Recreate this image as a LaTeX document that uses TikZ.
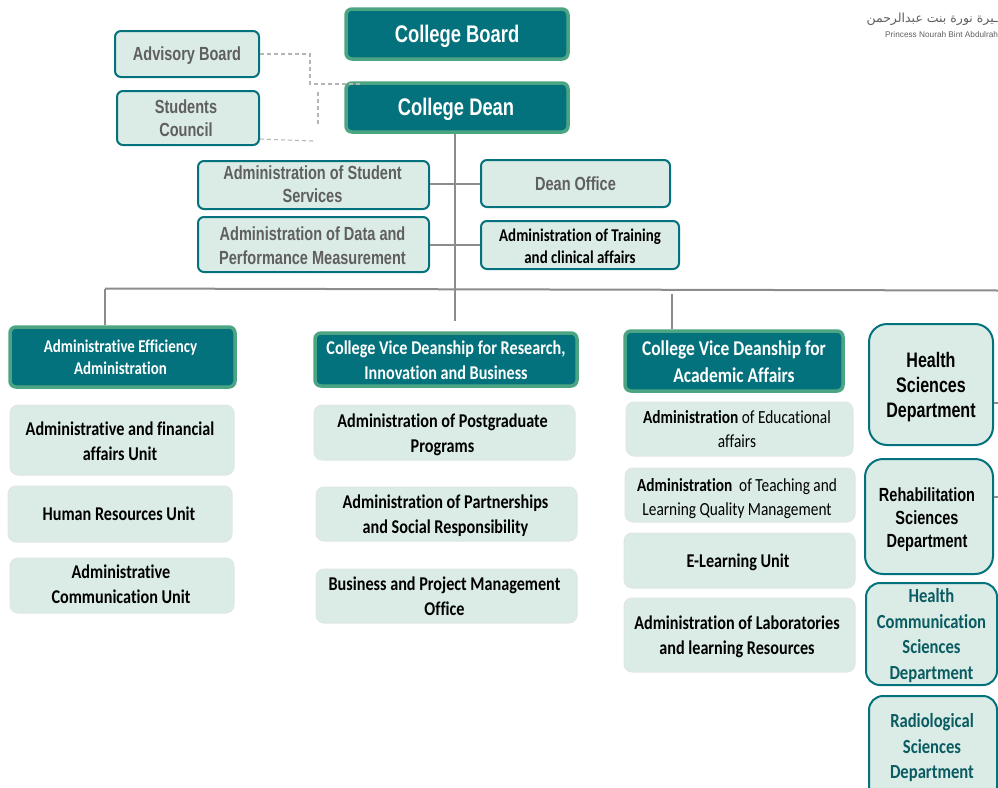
\documentclass[tikz,border=0pt]{standalone}
\usepackage{fontspec}
\setmainfont[FakeStretch=0.765]{Liberation Sans}
\newfontfamily\logofont{Liberation Sans}
\newfontfamily\calib[FakeStretch=0.83,Ligatures=NoCommon]{Carlito}
\newfontfamily\arabicfont[Script=Arabic]{DejaVu Sans}
\TeXXeTstate=1
\definecolor{teal1}{HTML}{04727C}
\definecolor{green1}{HTML}{4BA583}
\definecolor{pale}{HTML}{DBECE6}
\definecolor{edge2}{HTML}{DFE6E3}
\definecolor{gr}{HTML}{5F5F5F}
\definecolor{linec}{HTML}{8C8C8C}
\definecolor{deept}{HTML}{0B5C62}
\tikzset{
 base/.style={inner sep=0pt,font=\bfseries},
 dark/.style={base,fill=teal1,draw=green1,line width=3.5pt,rounded corners=6pt,text=white},
 lite/.style={base,fill=pale,draw=teal1,line width=2pt,rounded corners=6pt},
 soft/.style={base,fill=pale,draw=edge2,line width=1pt,rounded corners=8pt,text=black},
 conn/.style={draw=linec,line width=2pt},
 dashconn/.style={draw=linec!65,line width=1.1pt,dash pattern=on 4pt off 3pt},
}
% name, style, x0, y0, x1, y1, text dx, text dy, text
\newcommand{\bx}[9]{\node[#2,minimum width=#5pt-#3pt,minimum height=#6pt-#4pt] (#1) at ({(#3+#5)/2},{(#4+#6)/2}) {\kern#7pt\kern#7pt\raisebox{-#8pt}[\height][\depth]{\begin{tabular}{@{}c@{}}#9\end{tabular}}};}
\begin{document}
\begin{tikzpicture}[x=1pt,y=-1pt]
\useasboundingbox (0,0) rectangle (998,787);
\clip (0,0) rectangle (998,787);
\coordinate (cA) at (310,54); \coordinate (cB) at (310,84); \coordinate (cC) at (360,84);
\coordinate (cD) at (313,141); \coordinate (cE) at (318,92); \coordinate (cF) at (318,124);
\coordinate (stem) at (455,321); \coordinate (bL) at (105,288.5); \coordinate (bR) at (998,290.5);
\coordinate (jV) at (672,294); \coordinate (eH) at (998,403); \coordinate (eR) at (998,497); \coordinate (eC) at (998,624);
\draw[conn] (stem |- 0,130) -- (stem);
\bx{board}{dark,font=\bfseries\fontsize{24}{27}\selectfont}{346}{9}{568}{59}{0}{3}{College Board}
\bx{dean}{dark,font=\bfseries\fontsize{24}{27}\selectfont}{346}{83}{568}{132}{-1}{3}{College Dean}
\bx{adv}{lite,text=gr,font=\bfseries\fontsize{19}{23}\selectfont}{115}{31}{259}{77}{0}{2}{Advisory Board}
\bx{stu}{lite,text=gr,font=\bfseries\fontsize{19}{23}\selectfont}{117}{91}{259}{145}{-2}{2}{Students\\Council}
\bx{ass}{lite,text=gr,font=\bfseries\fontsize{19}{23.5}\selectfont}{198}{161}{429}{209}{-1}{1.5}{Administration of Student\\Services}
\bx{off}{lite,text=gr,font=\bfseries\fontsize{19}{23}\selectfont}{481}{160}{670}{207}{0}{2}{Dean Office}
\bx{adm}{lite,text=gr,font=\bfseries\fontsize{19}{23.5}\selectfont}{198}{217}{429}{272}{-1}{3.5}{Administration of Data and\\Performance Measurement}
\bx{trn}{lite,text=black,font=\calib\bfseries\fontsize{18}{22}\selectfont}{481}{221}{679}{269}{0}{3}{Administration of Training\\and clinical affairs}
\bx{eff}{dark,font=\calib\bfseries\fontsize{18}{22}\selectfont}{10}{327}{235}{387}{-2}{2}{Administrative Efficiency\\Administration}
\bx{res}{dark,font=\calib\bfseries\fontsize{19.5}{25}\selectfont}{315}{333}{577}{386}{0}{2}{College Vice Deanship for Research,\\Innovation and Business}
\bx{aca}{dark,font=\calib\bfseries\fontsize{21}{27}\selectfont}{625}{331}{843}{391}{0}{3}{College Vice Deanship for\\Academic Affairs}
\bx{u1}{soft,font=\calib\bfseries\fontsize{19.5}{25}\selectfont}{10}{405}{234}{475}{-2}{2.5}{Administrative and financial\\affairs Unit}
\bx{u2}{soft,font=\calib\bfseries\fontsize{19.5}{25}\selectfont}{8}{486}{232}{542}{-1}{1}{Human Resources Unit}
\bx{u3}{soft,font=\calib\bfseries\fontsize{19.5}{25}\selectfont}{10}{558}{234}{613}{-1}{0.5}{Administrative\\Communication Unit}
\bx{p1}{soft,font=\calib\bfseries\fontsize{19.5}{25}\selectfont}{314}{405}{575}{460}{-2}{2.5}{Administration of Postgraduate\\Programs}
\bx{p2}{soft,font=\calib\bfseries\fontsize{19.5}{25}\selectfont}{316}{487}{577}{541}{-1}{1.5}{Administration of Partnerships\\and Social Responsibility}
\bx{p3}{soft,font=\calib\bfseries\fontsize{19.5}{25}\selectfont}{316}{569}{577}{623}{-2}{1.5}{Business and Project Management\\Office}
\bx{a1}{soft,font=\calib\mdseries\fontsize{18.5}{24}\selectfont}{626}{402}{853}{456}{-2.5}{1.5}{\textbf{Administration} of Educational\\affairs}
\bx{a2}{soft,font=\calib\mdseries\fontsize{18.5}{24}\selectfont}{625}{468}{855}{522}{-3}{4}{\textbf{Administration}\ \ of Teaching and\\Learning Quality Management}
\bx{a3}{soft,font=\calib\bfseries\fontsize{19.5}{25}\selectfont}{624}{533}{855}{588}{-1.5}{2}{E-Learning Unit}
\bx{a4}{soft,font=\calib\bfseries\fontsize{19.5}{25}\selectfont}{624}{598}{855}{672}{-2.5}{2}{Administration of Laboratories\\and learning Resources}
\bx{d1}{lite,rounded corners=18pt,font=\bfseries\fontsize{21}{25}\selectfont}{869}{324}{993}{445}{0}{2.5}{Health\\Sciences\\Department}
\bx{d2}{lite,rounded corners=18pt,font=\bfseries\fontsize{19}{23}\selectfont}{865}{459}{993}{574}{-2}{3}{Rehabilitation\\Sciences\\Department}
\bx{d3}{lite,rounded corners=14pt,text=deept,font=\calib\bfseries\fontsize{20}{25.5}\selectfont}{866}{585}{997}{683}{0}{2}{Health\\Communication\\Sciences\\Department}
\bx{d4}{lite,rounded corners=14pt,text=deept,font=\calib\bfseries\fontsize{20}{25.5}\selectfont}{869}{696}{997}{800}{-1}{0}{Radiological\\Sciences\\Department}
\node[base,font=\logofont\mdseries\fontsize{8.25}{10}\selectfont,text=gr,anchor=west] (logoen) at (885,35) {Princess Nourah Bint Abdulrah};
\node[base,font=\arabicfont\mdseries\fontsize{12.5}{14}\selectfont,text=gr,anchor=east] (logoar) at (998,19) {\beginR ـيرة نورة بنت عبدالرحمن\endR};
\fill[teal1!30] (963,0) arc[start angle=180,end angle=360,x radius=8,y radius=2.5] -- cycle;
\draw[conn] (bL) -- (bR);
\draw[conn] (bL) -- (bL |- eff.north);
\draw[conn] (jV) -- (jV |- aca.north);
\draw[conn] (ass.east |- 0,184) -- (off.west |- 0,184);
\draw[conn] (adm.east |- 0,244.5) -- (trn.west |- 0,244.5);
\draw[conn] (eH -| d1.east) -- (eH);
\draw[conn] (eR -| d2.east) -- (eR);
\draw[conn] (eC -| d3.east) -- (eC);
\draw[dashconn] (adv.east) -- (cA) -- (cB) -- (cC);
\draw[dashconn] (stu.east |- 0,139) -- (cD);
\draw[dashconn] (cE) -- (cF);
\end{tikzpicture}
\end{document}
